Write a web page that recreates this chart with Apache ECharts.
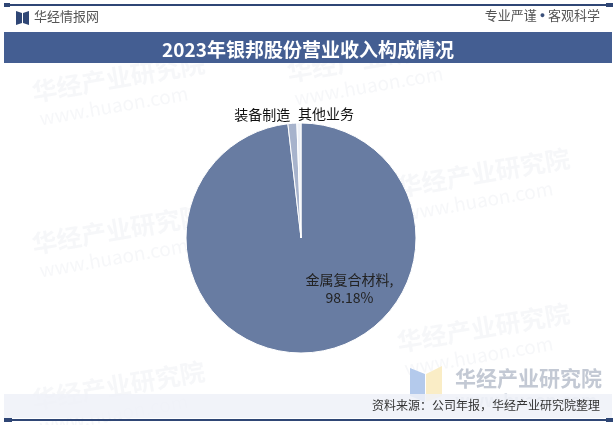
<!DOCTYPE html>
<html><head><meta charset="utf-8">
<script src="https://cdn.jsdelivr.net/npm/echarts@6/dist/echarts.min.js"></script>
<style>html,body{margin:0;padding:0;background:#fff}#c{width:616px;height:425px}</style>
</head><body><div id="c"></div>
<script>
const titleText = '2023年银邦股份营业收入构成情况';
const categories = ['金属复合材料', '装备制造', '其他业务'];
const values = [98.18, 1.25, 0.57];
const sliceColors = ['#687CA2', '#A7B3CC', '#EEF1F7'];
const sourceText = '资料来源：公司年报，华经产业研究院整理';

const chart = echarts.init(document.getElementById('c'), null, {renderer: 'canvas'});
const FONT = '"Noto Sans CJK SC", "Noto Sans", sans-serif';

const wm = [];
const wmPos = [[30, 80], [30, 232], [30, 388], [395, 175], [395, 330], [285, 60]];
wmPos.forEach(p => {
  wm.push({type: 'text', x: p[0], y: p[1], rotation: 0.17, z: 0,
    style: {text: '华经产业研究院', font: 'bold 25px ' + FONT, fill: 'rgba(200,206,218,0.16)'}});
  wm.push({type: 'text', x: p[0] + 8, y: p[1] + 29, rotation: 0.17, z: 0,
    style: {text: 'www.huaon.com', font: '19px ' + FONT, fill: 'rgba(200,206,218,0.16)'}});
});

chart.setOption({
  animation: false,
  backgroundColor: '#fff',
  title: {
    text: titleText, left: 'center', top: 35,
    textStyle: {color: '#fff', fontSize: 19, fontWeight: 'bold', fontFamily: FONT}
  },
  graphic: [
    ...wm,
    {type: 'rect', shape: {x: 5, y: 4, width: 607, height: 2}, style: {fill: '#2F4675'}, z: 5},
    {type: 'rect', shape: {x: 4, y: 3, width: 6, height: 4}, style: {fill: '#2F4675'}, z: 5},
    {type: 'rect', shape: {x: 606, y: 3, width: 7, height: 4}, style: {fill: '#2F4675'}, z: 5},
    {type: 'polygon', shape: {points: [[16, 11], [22, 13], [22, 23], [16, 25]]}, style: {fill: '#2F4675'}, z: 5},
    {type: 'polygon', shape: {points: [[23, 13], [29, 11], [29, 25], [23, 23]]}, style: {fill: '#2F4675'}, z: 5},
    {type: 'text', x: 34, y: 10, style: {text: '华经情报网', font: '13px ' + FONT, fill: '#555'}, z: 5},
    {type: 'text', x: 600, y: 9, style: {text: '专业严谨 {d|●} 客观科学', font: '13px ' + FONT, fill: '#555', align: 'right',
      rich: {d: {fontSize: 9, fill: '#3A4F7A', color: '#3A4F7A'}}}, z: 5},
    {type: 'rect', shape: {x: 4, y: 32, width: 608, height: 31}, style: {fill: '#445E92'}, z: 1},
    {type: 'polygon', shape: {points: [[410, 368], [425, 374], [425, 402], [410, 396]]}, style: {fill: '#B4CAEC'}, z: 1},
    {type: 'polygon', shape: {points: [[426, 374], [442, 366], [442, 396], [426, 402]]}, style: {fill: '#FAEDC6'}, z: 1},
    {type: 'text', x: 455, y: 368, style: {text: '华经产业研究院', font: 'bold 21px ' + FONT, fill: '#C3C9D4'}, z: 1},
    {type: 'text', x: 455, y: 392, style: {text: 'www.huaon.com', font: 'bold 17px ' + FONT, fill: '#D4D9E2'}, z: 1},
    {type: 'rect', shape: {x: 4, y: 394, width: 608, height: 24}, style: {fill: 'rgba(238,241,248,0.85)'}, z: 2},
    {type: 'text', x: 600, y: 399, style: {text: sourceText, font: '12px ' + FONT, fill: '#333', align: 'right'}, z: 5},
    {type: 'rect', shape: {x: 5, y: 419, width: 607, height: 2}, style: {fill: '#2F4675'}, z: 5},
    {type: 'rect', shape: {x: 4, y: 418, width: 8, height: 4}, style: {fill: '#2F4675'}, z: 5},
    {type: 'rect', shape: {x: 606, y: 418, width: 7, height: 4}, style: {fill: '#2F4675'}, z: 5}
  ],
  series: [{
    type: 'pie',
    center: [301, 238],
    radius: [0, 115],
    startAngle: 90,
    clockwise: true,
    avoidLabelOverlap: false,
    z: 3,
    itemStyle: {borderColor: '#fff', borderWidth: 1},
    label: {show: true, position: 'outside', color: '#111', fontSize: 14, fontFamily: FONT, formatter: '{b}'},
    labelLine: {show: false, length: 2, length2: 0},
    data: categories.map((c, i) => {
      const d = {name: c, value: values[i], itemStyle: {color: sliceColors[i]}};
      if (i === 0) d.label = {position: 'inside', formatter: '{b},\n{d}%', color: '#222', fontSize: 14, lineHeight: 18, offset: [45, -10]};
      if (i === 1) d.label = {offset: [3, -7]};
      if (i === 2) d.label = {offset: [60, -7]};
      return d;
    })
  }]
});
</script></body></html>
